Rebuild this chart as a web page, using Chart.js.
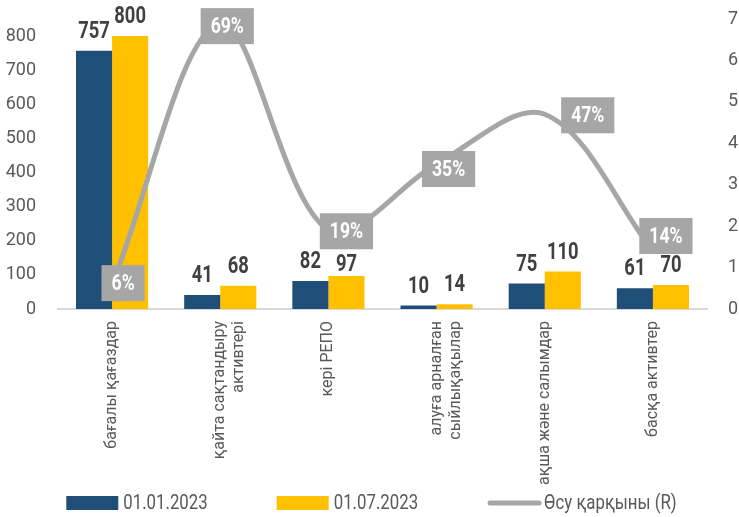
<!DOCTYPE html>
<html>
<head>
<meta charset="utf-8">
<script src="https://cdn.jsdelivr.net/npm/chart.js@4.4.0/dist/chart.umd.min.js"></script>
<style>
  html, body { margin: 0; padding: 0; background: #fff; }
  #wrap { width: 739px; height: 517px; position: relative; }
</style>
</head>
<body>
<div id="wrap"><canvas id="assetsChart"></canvas></div>
<script>
// data
const categories = [
    ['бағалы қағаздар'],
    ['қайта сақтандыру', 'активтері'],
    ['кері РЕПО'],
    ['алуға арналған', 'сыйлықақылар'],
    ['ақша және салымдар'],
    ['басқа активтер']
]
const seriesNames = ['01.01.2023', '01.07.2023', 'Өсу қарқыны (R)']
const jan2023  = [757, 41, 82, 10, 75, 61]
const jul2023  = [800, 68, 97, 14, 110, 70]
const growth   = [6, 69, 19, 35, 47, 14]
const leftTicks  = [0, 100, 200, 300, 400, 500, 600, 700, 800]
const rightTicks = [0, 10, 20, 30, 40, 50, 60, 70]

const FONT  = 'Roboto, "DejaVu Sans", sans-serif'
const NAVY  = '#1F4E79'
const GOLD  = '#FFC000'
const GREY  = '#A6A6A6'
const TEXT  = '#595959'
const SQUEEZE = 0.8   // the original uses a condensed face

// small nudges for labels, like the manual placement in the original
const labelNudge = [[11, -1], [7, 3], [18, 1], [12, 5], [43, 1], [13, -15]]
const barLabelDrop = { '1-2': 8 }   // "97" sits lower, under the 19% box

function narrowText(ctx, text, x, y) {
    ctx.save()
    ctx.translate(x, y)
    ctx.scale(SQUEEZE, 1)
    ctx.fillText(text, 0, 0)
    ctx.restore()
}

const valueLabels = {
    id: 'valueLabels',
    afterDatasetsDraw(chart) {
        const ctx = chart.ctx
        ctx.save()
        chart.data.datasets.forEach((ds, i) => {
            const meta = chart.getDatasetMeta(i)
            meta.data.forEach((el, j) => {
                const v = ds.data[j]
                if (ds.type === 'line') {
                    const text = v + '%'
                    ctx.font = 'bold 22px ' + FONT
                    const w = ctx.measureText(text).width * SQUEEZE + 20
                    const h = 36
                    const cx = el.x + labelNudge[j][0]
                    const cy = el.y + labelNudge[j][1]
                    ctx.fillStyle = GREY
                    ctx.fillRect(cx - w / 2, cy - h / 2, w, h)
                    ctx.fillStyle = '#fff'
                    ctx.textAlign = 'center'
                    ctx.textBaseline = 'middle'
                    narrowText(ctx, text, cx, cy + 1)
                } else {
                    const drop = barLabelDrop[i + '-' + j] || 0
                    ctx.font = 'bold 23px ' + FONT
                    ctx.fillStyle = '#404040'
                    ctx.textAlign = 'center'
                    ctx.textBaseline = 'bottom'
                    narrowText(ctx, String(v), el.x, el.y - 7 + drop)
                }
            })
        })
        ctx.restore()
    }
}

const bottomLegend = {
    id: 'bottomLegend',
    afterDraw(chart) {
        const ctx = chart.ctx
        const y = 503
        const gap = 69
        ctx.save()
        ctx.font = '21px ' + FONT
        const items = chart.data.datasets.map(ds => ({
            text: ds.label,
            line: ds.type === 'line',
            color: ds.type === 'line' ? ds.borderColor : ds.backgroundColor,
            w: 52 + 5 + ctx.measureText(ds.label).width * SQUEEZE
        }))
        const total = items.reduce((s, it) => s + it.w, 0) + gap * (items.length - 1)
        let x = (chart.width - total) / 2 + 2
        items.forEach(it => {
            if (it.line) {
                ctx.strokeStyle = it.color
                ctx.lineWidth = 5
                ctx.lineCap = 'round'
                ctx.beginPath()
                ctx.moveTo(x + 3, y)
                ctx.lineTo(x + 52, y)
                ctx.stroke()
            } else {
                ctx.fillStyle = it.color
                ctx.fillRect(x, y - 7, 52, 14)
            }
            ctx.fillStyle = TEXT
            ctx.textAlign = 'left'
            ctx.textBaseline = 'middle'
            narrowText(ctx, it.text, x + 57, y + 1)
            x += it.w + gap
        })
        ctx.restore()
    }
}

// the value axes should not push the plot down for their label half-heights
function fixAxis(width) {
    return s => {
        s.width = width
        s.paddingTop = 0
        s.paddingBottom = 0
    }
}

new Chart(document.getElementById('assetsChart'), {
    data: {
        labels: categories,
        datasets: [
            {
                type: 'bar',
                label: seriesNames[0],
                data: jan2023,
                backgroundColor: NAVY,
                yAxisID: 'y',
                order: 2
            },
            {
                type: 'bar',
                label: seriesNames[1],
                data: jul2023,
                backgroundColor: GOLD,
                yAxisID: 'y',
                order: 2
            },
            {
                type: 'line',
                label: seriesNames[2],
                data: growth,
                borderColor: GREY,
                backgroundColor: GREY,
                borderWidth: 5,
                pointRadius: 0,
                tension: 0.34,
                clip: false,
                yAxisID: 'y1',
                order: 1
            }
        ]
    },
    options: {
        responsive: true,
        maintainAspectRatio: false,
        animation: false,
        layout: { padding: { top: 19, left: 0, right: 0, bottom: 0 } },
        datasets: {
            bar: { categoryPercentage: 0.667, barPercentage: 1.0 }
        },
        plugins: {
            legend: { display: false },
            tooltip: { enabled: false }
        },
        scales: {
            x: {
                grid: { display: false, drawTicks: false },
                border: { display: true, color: '#D9D9D9', width: 2 },
                ticks: {
                    color: TEXT,
                    font: { family: FONT, size: 16 },
                    maxRotation: 90,
                    minRotation: 90,
                    padding: 12,
                    autoSkip: false
                },
                afterFit: s => { s.height = 208 }
            },
            y: {
                position: 'left',
                min: 0,
                max: 850,
                grid: { display: false, drawTicks: false },
                border: { display: false },
                ticks: {
                    color: TEXT,
                    font: { family: FONT, size: 18 },
                    padding: 22
                },
                afterBuildTicks: s => { s.ticks = leftTicks.map(v => ({ value: v })) },
                afterFit: fixAxis(58)
            },
            y1: {
                position: 'right',
                min: 0,
                max: 70,
                grid: { display: false, drawTicks: false },
                border: { display: false },
                ticks: {
                    color: TEXT,
                    font: { family: FONT, size: 18 },
                    padding: 21,
                    callback: v => v + '%'
                },
                afterBuildTicks: s => { s.ticks = rightTicks.map(v => ({ value: v })) },
                afterFit: fixAxis(32)
            }
        }
    },
    plugins: [valueLabels, bottomLegend]
})
</script>
</body>
</html>
